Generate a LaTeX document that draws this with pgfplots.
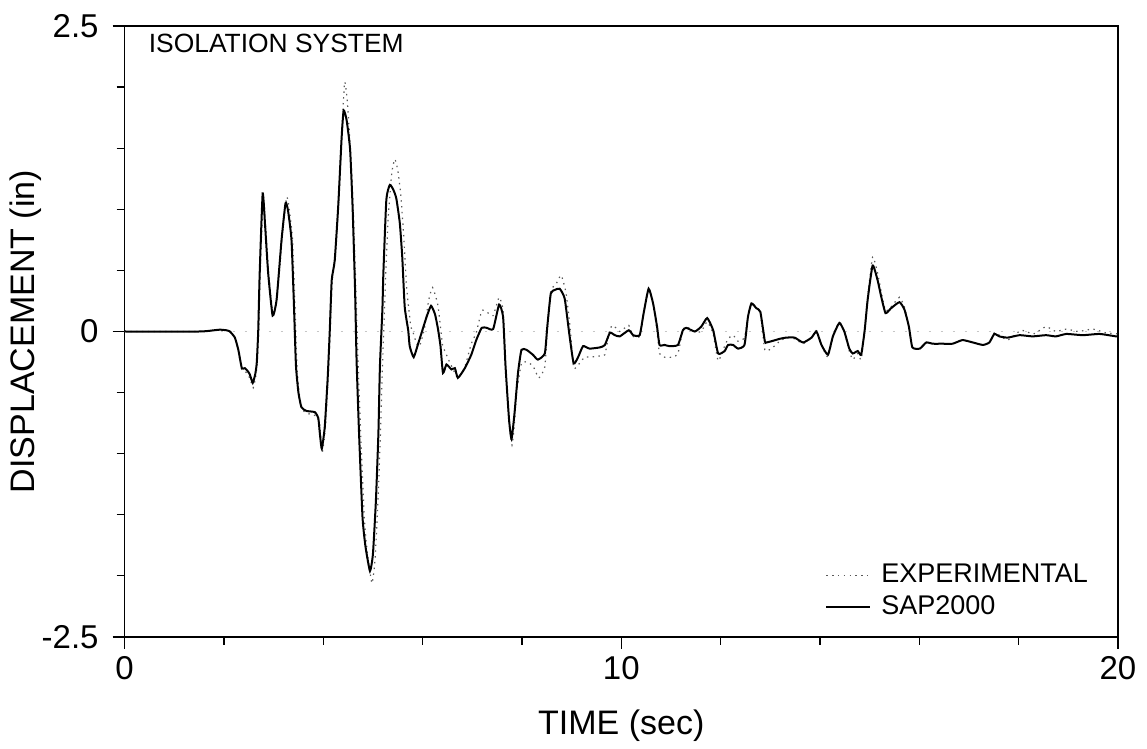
\documentclass[border=0pt]{standalone}
\usepackage{fontspec}
\setmainfont{Liberation Sans}
\usepackage{pgfplots}
\pgfplotsset{compat=1.18}

\pgfplotstableread{
t y
0 0
1.5 0
1.8 0.01
1.92 0.015
2.05 0.01
2.12 0.0
2.22 -0.05
2.29 -0.16
2.36 -0.31
2.42 -0.32
2.47 -0.35
2.52 -0.38
2.59 -0.46
2.64 -0.37
2.67 -0.26
2.70 0
2.73 0.48
2.79 1.10
2.84 0.86
2.90 0.48
2.99 0.14
3.07 0.27
3.17 0.76
3.26 1.10
3.31 1.02
3.38 0.76
3.43 0.21
3.47 -0.28
3.52 -0.52
3.58 -0.64
3.68 -0.67
3.85 -0.69
3.92 -0.74
3.95 -0.86
3.98 -0.99
4.04 -0.80
4.10 -0.37
4.14 0
4.18 0.42
4.24 0.60
4.31 1.05
4.37 1.60
4.43 2.04
4.48 1.90
4.53 1.60
4.60 1.05
4.66 0.30
4.70 -0.25
4.76 -0.90
4.83 -1.55
4.89 -1.82
4.98 -2.06
5.04 -1.88
5.10 -1.40
5.15 -0.85
5.19 -0.30
5.23 0.15
5.26 0.50
5.31 0.95
5.38 1.30
5.44 1.41
5.50 1.32
5.56 1.12
5.62 0.78
5.68 0.35
5.76 0.05
5.81 -0.01
5.88 -0.10
5.94 -0.12
6.04 0.03
6.12 0.25
6.20 0.36
6.31 0.21
6.40 -0.11
6.45 -0.16
6.51 -0.22
6.58 -0.28
6.71 -0.38
6.85 -0.29
6.98 -0.10
7.08 -0.01
7.19 0.17
7.29 0.16
7.42 0.13
7.54 0.28
7.62 0.17
7.67 -0.27
7.74 -0.74
7.80 -0.93
7.85 -0.75
7.89 -0.51
7.99 -0.26
8.09 -0.25
8.22 -0.28
8.34 -0.38
8.46 -0.29
8.51 0.0
8.58 0.33
8.69 0.39
8.79 0.46
8.89 0.31
8.98 -0.01
9.04 -0.30
9.16 -0.26
9.26 -0.21
9.36 -0.21
9.57 -0.20
9.67 -0.19
9.77 0.02
9.84 0.05
9.97 0.0
10.15 0.05
10.24 -0.04
10.37 -0.04
10.45 0.15
10.55 0.35
10.64 0.23
10.72 0.0
10.77 -0.18
10.87 -0.21
11.04 -0.21
11.14 -0.18
11.24 0.01
11.31 0.04
11.48 0.0
11.61 0.0
11.73 0.08
11.85 -0.02
11.95 -0.24
12.08 -0.12
12.15 -0.06
12.25 -0.03
12.35 -0.08
12.48 -0.05
12.55 0.12
12.62 0.23
12.72 0.20
12.80 0.15
12.89 -0.15
13.02 -0.14
13.19 -0.08
13.32 -0.05
13.49 -0.06
13.66 -0.10
13.83 -0.05
13.93 0.01
14.03 -0.11
14.16 -0.21
14.26 -0.04
14.39 0.08
14.49 0.0
14.59 -0.16
14.66 -0.23
14.76 -0.18
14.83 -0.23
14.90 0.01
14.96 0.28
15.06 0.61
15.16 0.48
15.23 0.33
15.32 0.17
15.43 0.20
15.60 0.28
15.70 0.20
15.79 0.04
15.86 -0.13
16.01 -0.14
16.14 -0.09
16.27 -0.10
16.47 -0.10
16.67 -0.10
16.87 -0.07
17.08 -0.09
17.28 -0.11
17.41 -0.09
17.51 -0.01
17.61 -0.03
17.78 -0.07
18.05 0.01
18.30 -0.02
18.55 0.04
18.75 0.0
18.96 0.02
19.20 0.0
19.49 0.02
19.75 -0.01
20 -0.02
}\expdata

\pgfplotstableread{
t y
0 0
1.5 0
1.8 0.01
1.92 0.015
2.05 0.01
2.12 0.0
2.22 -0.05
2.29 -0.15
2.36 -0.30
2.42 -0.30
2.47 -0.32
2.52 -0.35
2.58 -0.42
2.63 -0.35
2.66 -0.26
2.69 0
2.72 0.48
2.78 1.13
2.83 0.86
2.89 0.48
2.98 0.13
3.06 0.26
3.16 0.75
3.24 1.05
3.29 0.99
3.36 0.75
3.41 0.21
3.45 -0.28
3.50 -0.50
3.56 -0.62
3.66 -0.65
3.83 -0.66
3.90 -0.71
3.93 -0.83
3.97 -0.96
4.03 -0.78
4.09 -0.37
4.13 0
4.17 0.42
4.23 0.58
4.30 1.02
4.37 1.59
4.41 1.81
4.47 1.73
4.54 1.49
4.59 1.02
4.64 0.34
4.67 -0.23
4.72 -0.83
4.79 -1.52
4.85 -1.76
4.94 -1.96
5.00 -1.82
5.06 -1.38
5.11 -0.83
5.14 -0.29
5.19 0.18
5.21 0.48
5.27 1.08
5.34 1.20
5.41 1.16
5.47 1.09
5.54 0.89
5.59 0.61
5.64 0.20
5.71 0.01
5.74 -0.12
5.82 -0.21
5.91 -0.10
5.98 -0.01
6.08 0.12
6.17 0.21
6.25 0.14
6.31 0.02
6.36 -0.12
6.41 -0.34
6.48 -0.27
6.58 -0.31
6.65 -0.30
6.71 -0.38
6.85 -0.30
6.98 -0.19
7.08 -0.07
7.19 0.03
7.29 0.03
7.42 0.02
7.54 0.22
7.62 0.12
7.67 -0.29
7.74 -0.72
7.79 -0.88
7.85 -0.67
7.92 -0.34
7.99 -0.15
8.09 -0.15
8.22 -0.19
8.32 -0.23
8.46 -0.18
8.51 0.04
8.58 0.31
8.66 0.34
8.76 0.35
8.86 0.27
8.95 -0.01
9.04 -0.26
9.13 -0.21
9.23 -0.12
9.36 -0.14
9.57 -0.13
9.67 -0.11
9.77 -0.01
9.87 -0.03
9.97 -0.04
10.15 0.01
10.24 -0.03
10.37 -0.03
10.45 0.15
10.55 0.35
10.64 0.23
10.72 0.04
10.77 -0.11
10.87 -0.11
10.97 -0.12
11.14 -0.11
11.24 0.01
11.31 0.03
11.48 0.0
11.61 0.04
11.73 0.11
11.85 0.01
11.95 -0.18
12.08 -0.16
12.15 -0.11
12.25 -0.11
12.35 -0.14
12.48 -0.11
12.55 0.12
12.62 0.23
12.72 0.19
12.80 0.16
12.89 -0.08
12.92 -0.09
13.02 -0.08
13.19 -0.06
13.32 -0.05
13.49 -0.05
13.66 -0.09
13.83 -0.05
13.93 0.0
14.03 -0.11
14.16 -0.19
14.26 -0.04
14.39 0.07
14.49 0.0
14.59 -0.14
14.66 -0.18
14.76 -0.16
14.83 -0.19
14.90 0.01
14.96 0.26
15.06 0.54
15.16 0.42
15.23 0.29
15.32 0.15
15.43 0.19
15.60 0.24
15.70 0.18
15.79 0.04
15.86 -0.13
16.01 -0.14
16.14 -0.09
16.27 -0.10
16.47 -0.10
16.67 -0.10
16.87 -0.07
17.08 -0.09
17.28 -0.11
17.41 -0.09
17.51 -0.02
17.61 -0.04
17.78 -0.05
18.02 -0.03
18.28 -0.04
18.55 -0.03
18.75 -0.04
18.96 -0.02
19.29 -0.03
19.63 -0.02
19.96 -0.04
20 -0.04
}\sapdata

\begin{document}
\begin{tikzpicture}
\begin{axis}[
  scale only axis,
  width=496.7pt, height=305.5pt,
  xmin=0, xmax=20, ymin=-2.5, ymax=2.5,
  xtick={0,10,20}, ytick={-2.5,0,2.5},
  minor xtick={2,4,6,8,12,14,16,18},
  minor ytick={-2,-1.5,-1,-0.5,0.5,1,1.5,2},
  tick pos=left, tick align=outside,
  major tick length=6pt, minor tick length=4pt,
  tick style={black, line width=0.6pt},
  axis line style={line width=0.7pt},
  /pgf/number format/assume math mode=true,
  yticklabel style={/pgf/number format/.cd, fixed, precision=1, /tikz/.cd, xshift=-3.5pt},
  ticklabel style={font=\fontsize{16.5}{16.5}\selectfont},
  xlabel={TIME (sec)}, ylabel={DISPLACEMENT (in)},
  label style={font=\fontsize{17}{17}\selectfont},
  xlabel style={at={(axis description cs:0.5,0)}, anchor=north, yshift=-33pt},
  ylabel style={at={(axis description cs:-0.1,0.5)}, anchor=center},
  legend style={draw=none, fill=none, at={(rel axis cs:0.705,0.126)}, anchor=north west,
    font=\fontsize{13.5}{13.5}\selectfont, row sep=1pt, inner sep=0pt},
  legend cell align=left,
  legend image code/.code={\draw[#1] (0pt,0pt) -- (22pt,0pt); \path (25pt,0pt);},
]
\addplot[gray!45, dash pattern=on 1pt off 5pt, line width=0.5pt, forget plot] coordinates {(0,0) (20,0)};
\addplot[black!65, line width=0.6pt, dash pattern=on 0.7pt off 2.2pt, smooth, tension=0.3] table[x=t, y=y] {\expdata};
\addlegendentry{EXPERIMENTAL}
\addplot[black, line width=1pt, smooth, tension=0.3] table[x=t, y=y] {\sapdata};
\addlegendentry{SAP2000}
\node[anchor=west, font=\fontsize{13.2}{13.2}\selectfont, inner sep=0pt] at (rel axis cs:0.024,0.972) {ISOLATION SYSTEM};
\coordinate (bl) at (rel axis cs:0,0);
\coordinate (tr) at (rel axis cs:1,1);
\end{axis}
\pgfresetboundingbox
\path ([xshift=-62.3pt,yshift=-56pt]bl) rectangle ([xshift=14.5pt,yshift=13pt]tr);
\end{tikzpicture}
\end{document}
